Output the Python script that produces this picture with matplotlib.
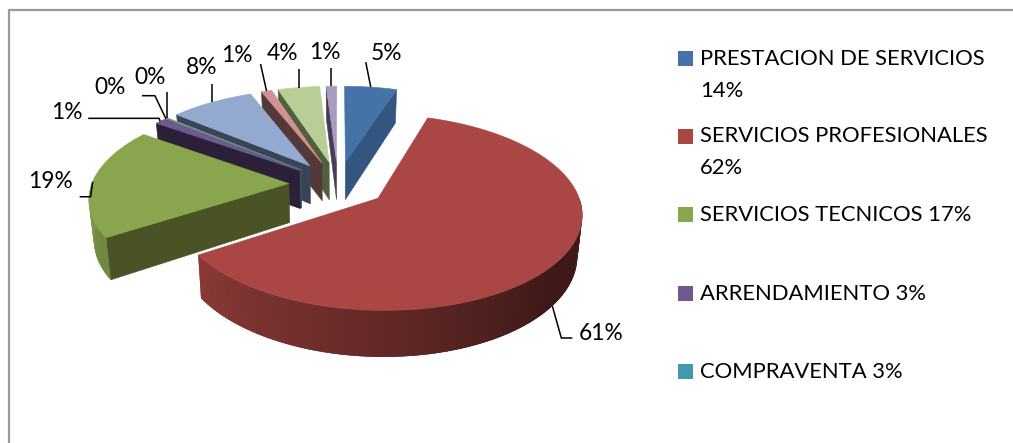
import numpy as np
import matplotlib
matplotlib.use("Agg")
import matplotlib.pyplot as plt
from matplotlib.patches import Polygon, Rectangle

# ---- data ----
slice_values = [5, 61, 19, 1, 0.15, 0.1, 8, 1, 4, 1]
slice_top_colors = ['#4572A7', '#AA4643', '#89A54E', '#71588F', '#4198AF',
                    '#DB843D', '#93A9CF', '#D19392', '#B9CD96', '#A99BBD']
slice_cut_colors = ['#32567F', '#6A2A28', '#4A5326', '#2C2038', '#2A5F6E',
                    '#7A4A20', '#374459', '#553838', '#505F3C', '#463E55']
legend_entries = [['PRESTACION DE SERVICIOS', '14%'],
                  ['SERVICIOS PROFESIONALES', '62%'],
                  ['SERVICIOS TECNICOS 17%'],
                  ['ARRENDAMIENTO 3%'],
                  ['COMPRAVENTA 3%']]
legend_colors = ['#4572A7', '#AA4643', '#89A54E', '#71588F', '#4198AF']

# ---- layout ----
W, H = 1013, 443
CX, CY, A, B, K, DEPTH, EXPLODE = 338, 184, 197, 92, 0.14, 39, 0.25
Z_SHRINK = 0.02
LEG_X, LEG_TEXT_X = 678, 700
LEG_Y = [51, 129, 207, 286, 364]
FS_LEG, FS_LAB = 15.8, 16.4
# leader: rim level (0 top edge, 1 bottom edge), (dx, dy) elbows from the anchor, label centre in px
leaders = {
    0: (0, [(-5, -25)], (386, 53)),
    1: (1, [(9, 32), (20, 32)], (601, 333)),
    2: (0, [(-2, 15), (-13, 15)], (50, 182)),
    3: (0, [(-1, -3), (-72, -3)], (67, 112)),
    4: (0, [(-11, -23), (-24, -23)], (110, 87)),
    5: (0, [(0, -26)], (150, 77)),
    6: (0, [(0, -18)], (202, 67)),
    7: (0, [(-6, -27)], (237, 55)),
    8: (0, [(0, -19)], (282, 53)),
    9: (0, [(0, -18)], (325, 52)),
}

plt.rcParams['font.family'] = ['Lato', 'DejaVu Sans']
fig = plt.figure(figsize=(W / 100, H / 100), dpi=100, facecolor='white')
ax = fig.add_axes([0, 0, 1, 1])
ax.set_xlim(0, W)
ax.set_ylim(H, 0)
ax.axis('off')


def proj(u, v, z=0.0):
    s = 1 / (1 + K * v)
    return CX + A * u * s * (1 - Z_SHRINK * z), CY - B * v * s + DEPTH * z * s


def face(pts, color, zorder, lw=0.4):
    ax.add_patch(Polygon(pts, closed=True, facecolor=color, edgecolor=color if lw else 'none',
                         linewidth=lw, joinstyle='round', zorder=zorder))


def rim_shade(theta):
    return np.interp(theta, [90, 130, 180, 238, 270], [0.40, 0.36, 0.58, 0.82, 0.93])


def shade(color, f):
    return tuple(np.array(matplotlib.colors.to_rgb(color)) * f)


def sc(t):
    return np.sin(np.radians(t)), np.cos(np.radians(t))


total = sum(slice_values)
spans = np.array(slice_values) / total * 360
starts = np.concatenate([[0], np.cumsum(spans)[:-1]])
mids = starts + spans / 2

# far slices first
order = sorted(range(len(slice_values)), key=lambda i: -np.cos(np.radians(mids[i])))
z = 2
centres = {}
for i in order:
    t0, t1, mid = starts[i], starts[i] + spans[i], mids[i]
    sm, cm = sc(mid)
    ou, ov = EXPLODE * sm, EXPLODE * cm
    th = np.linspace(t0, t1, max(3, int(spans[i] * 2)))
    su, cu = sc(th)
    ru, rv = ou + su, ov + cu
    centres[i] = (ou + sm, ov + cm)

    # cut faces
    for t, sign in ((t0, -1), (t1, 1)):
        if sign * np.sin(np.radians(t)) > 0:
            st, ct = sc(t)
            eu, ev = ou + st, ov + ct
            face([proj(ou, ov), proj(eu, ev), proj(eu, ev, 1), proj(ou, ov, 1)],
                 slice_cut_colors[i], z)
    # outer rim, shaded strip by strip; every strip overlaps the next to avoid seams
    lo, hi = max(t0, 90), min(t1, 275)
    if hi > lo:
        tt = np.linspace(lo, hi, max(2, int(hi - lo)))
        for a0, a1 in zip(tt[:-1], tt[1:]):
            poly_t = np.linspace(a0, min(a1 + 1.5, hi), 4)
            s_, c_ = sc(poly_t)
            upper = [proj(ou + a, ov + b) for a, b in zip(s_, c_)]
            lower = [proj(ou + a, ov + b, 1) for a, b in zip(s_, c_)]
            face(upper + lower[::-1], shade(slice_top_colors[i], rim_shade((a0 + a1) / 2)), z, lw=0)
    # top face
    top = [proj(ou, ov)] + [proj(a, b) for a, b in zip(ru, rv)]
    face(top, slice_top_colors[i], z + 0.5)
    z += 1

# labels and leader lines
for i, (level, elbows, (lx, ly)) in leaders.items():
    ax0, ay0 = proj(*centres[i], level)
    xs = [ax0] + [ax0 + d[0] for d in elbows]
    ys = [ay0] + [ay0 + d[1] for d in elbows]
    ax.plot(xs, ys, color='black', lw=1.1, zorder=40, solid_capstyle='butt')
    ax.text(lx, ly, f'{round(slice_values[i])}%', ha='center', va='center',
            fontsize=FS_LAB, color='black', zorder=41)

# legend
for y, lines, col in zip(LEG_Y, legend_entries, legend_colors):
    ax.add_patch(Rectangle((LEG_X, y), 15, 15, facecolor=col, edgecolor='none', zorder=5))
    for j, line in enumerate(lines):
        ax.text(LEG_TEXT_X, y + 7.5 + j * 32, line, ha='left', va='center',
                fontsize=FS_LEG, color='black', zorder=5)

# chart frame: only left and top edges are in the picture
ax.plot([9, 9, W], [H, 9.5, 9.5], color='#9A9A9A', lw=1.6, zorder=1)

fig.savefig('out.png', dpi=100)
